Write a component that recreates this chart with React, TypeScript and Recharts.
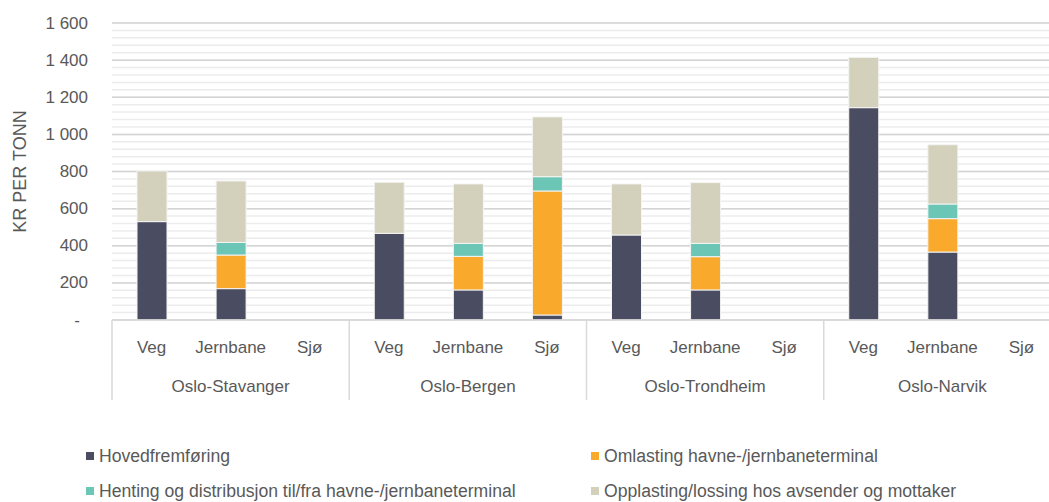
import React from 'react';
import { BarChart, Bar, XAxis, YAxis, CartesianGrid, Legend } from 'recharts';

const routes = ['Oslo-Stavanger', 'Oslo-Bergen', 'Oslo-Trondheim', 'Oslo-Narvik'];
const modes = ['Veg', 'Jernbane', 'Sjø'];

// values per route x mode (Veg, Jernbane, Sjø)
const hovedfremforing = [530, 169, 0, 467, 162, 27, 458, 162, 0, 1144, 366, 0];
const omlasting = [0, 181, 0, 0, 181, 668, 0, 179, 0, 0, 180, 0];
const henting = [0, 68, 0, 0, 70, 77, 0, 72, 0, 0, 79, 0];
const opplasting = [273, 331, 0, 275, 320, 322, 275, 327, 0, 271, 319, 0];

const yMax = 1600;
const yTicks = [0, 200, 400, 600, 800, 1000, 1200, 1400, 1600];
const minorTicks = Array.from({ length: 41 }, (_, i) => i * 40);

const seriesNames = [
  'Hovedfremføring',
  'Omlasting havne-/jernbaneterminal',
  'Henting og distribusjon til/fra havne-/jernbaneterminal',
  'Opplasting/lossing hos avsender og mottaker',
];
const seriesKeys = ['hoved', 'oml', 'hent', 'opp'];
const colors = ['#4a4c61', '#f9a92c', '#6cc6b6', '#d3d1bb'];

const data = routes.flatMap((route, r) =>
  modes.map((mode, m) => {
    const i = r * 3 + m;
    return {
      key: `${route}|${mode}`,
      route,
      mode,
      hoved: hovedfremforing[i],
      oml: omlasting[i],
      hent: henting[i],
      opp: opplasting[i],
    };
  })
);

const FONT = '"Liberation Sans", Arial, sans-serif';
const TEXT = '#595959';

const fmt = (v: number) => (v === 0 ? '-' : v >= 1000 ? `${Math.floor(v / 1000)} ${String(v % 1000).padStart(3, '0')}` : String(v));

const YTick = (props: any) => {
  const { x, y, payload } = props;
  const v = payload.value;
  return (
    <text x={v === 0 ? x - 8 : x} y={y} textAnchor="end" dominantBaseline="central" fill={TEXT} fontSize={17} fontFamily={FONT}>
      {fmt(v)}
    </text>
  );
};

const XTick = (props: any) => {
  const { x, y, payload, index } = props;
  const d = data[index];
  const half = payload && payload.offset ? payload.offset : 0;
  return (
    <g>
      <text x={x} y={y + 27} textAnchor="middle" dominantBaseline="central" fill={TEXT} fontSize={17} fontFamily={FONT}>
        {d.mode}
      </text>
      {index % 3 === 1 && (
        <text x={x} y={y + 66} textAnchor="middle" dominantBaseline="central" fill={TEXT} fontSize={17} fontFamily={FONT}>
          {d.route}
        </text>
      )}
      {index % 3 === 0 && <line x1={x - half} x2={x - half} y1={y} y2={y + 80} stroke="#d9d9d9" strokeWidth={1.5} />}
      {index === data.length - 1 && <line x1={x + half} x2={x + half} y1={y} y2={y + 80} stroke="#d9d9d9" strokeWidth={1.5} />}
    </g>
  );
};

const LegendContent = () => {
  const pos = [
    { left: 86, top: 56 },
    { left: 591, top: 56 },
    { left: 86, top: 91 },
    { left: 591, top: 91 },
  ];
  return (
    <div style={{ position: 'relative', width: 1049, height: 102, fontFamily: FONT, fontSize: 17.6, color: TEXT }}>
      {seriesNames.map((name, i) => (
        <div
          key={name}
          style={{
            position: 'absolute',
            left: pos[i].left,
            top: pos[i].top - 12,
            height: 24,
            display: 'flex',
            alignItems: 'center',
            whiteSpace: 'nowrap',
          }}
        >
          <span style={{ display: 'inline-block', width: 8, height: 8, background: colors[i], marginRight: 5 }} />
          <span>{name}</span>
        </div>
      ))}
    </div>
  );
};

const YLabel = (props: any) => {
  const { viewBox } = props;
  const cy = viewBox.y + viewBox.height / 2;
  return (
    <text x={20} y={cy} transform={`rotate(-90, 20, ${cy})`} textAnchor="middle" dominantBaseline="central" fill={TEXT} fontSize={18} fontFamily={FONT}>
      KR PER TONN
    </text>
  );
};

const minorGen = (props: any) => {
  const s = props && props.yAxis ? props.yAxis.scale : null;
  let f: ((v: number) => number) | null = null;
  if (typeof s === 'function') f = (v) => s(v);
  else if (s && typeof s.map === 'function') f = (v) => s.map(v);
  else if (props && props.offset) {
    const o = props.offset;
    f = (v) => o.top + o.height * (1 - v / yMax);
  }
  if (!f) return [];
  return minorTicks.map((v) => f!(v)).filter((c) => typeof c === 'number' && !isNaN(c));
};

export default function App() {
  return (
    <div style={{ position: 'absolute', left: 0, top: 0, width: 1049, height: 502, background: '#fff', overflow: 'hidden' }}>
      <BarChart width={1061} height={502} data={data} margin={{ top: 23, right: 0, bottom: 0, left: 0 }} barSize={30}>
        <CartesianGrid vertical={false} stroke="#ececec" strokeWidth={1.5} horizontalCoordinatesGenerator={minorGen} />
        <CartesianGrid vertical={false} stroke="#d4d4d4" strokeWidth={1.5} />
        <XAxis
          dataKey="key"
          interval={0}
          height={80}
          tickLine={false}
          tickSize={0}
          tickMargin={0}
          axisLine={{ stroke: '#d9d9d9', strokeWidth: 1.5 }}
          tick={<XTick />}
        />
        <YAxis
          width={112}
          domain={[0, yMax]}
          ticks={yTicks}
          type="number"
          axisLine={false}
          tickLine={false}
          tickSize={0}
          tickMargin={24}
          tick={<YTick />}
          label={<YLabel />}
        />
        <Legend verticalAlign="bottom" height={102} content={<LegendContent />} wrapperStyle={{ left: 0, width: 1049 }} />
        {seriesKeys.map((k, i) => (
          <Bar key={k} dataKey={k} name={seriesNames[i]} stackId="a" fill={colors[i]} stroke="#f4f4f4" strokeWidth={1} isAnimationActive={false} />
        ))}
      </BarChart>
    </div>
  );
}
